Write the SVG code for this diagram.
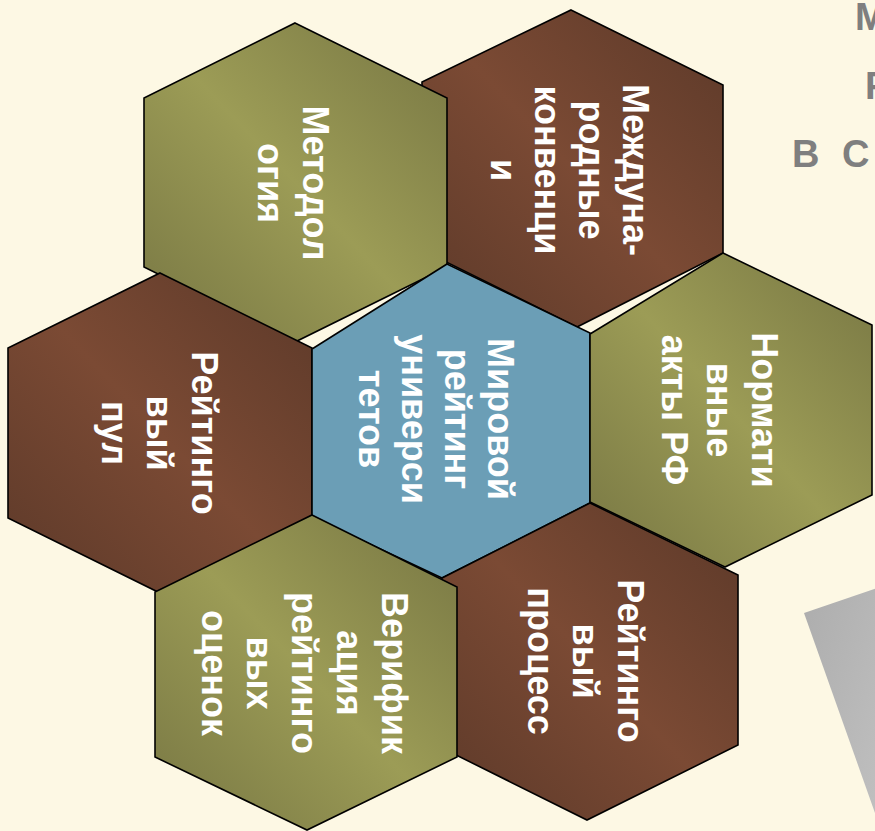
<svg xmlns="http://www.w3.org/2000/svg" width="875" height="831" viewBox="0 0 875 831">
<defs>
<linearGradient id="olive" x1="1" y1="0" x2="0" y2="1">
<stop offset="0" stop-color="#777643"/>
<stop offset="0.5" stop-color="#9c9c56"/>
<stop offset="1" stop-color="#777643"/>
</linearGradient>
<linearGradient id="brown" x1="1" y1="0" x2="0" y2="1">
<stop offset="0" stop-color="#5c3929"/>
<stop offset="0.5" stop-color="#7b4a34"/>
<stop offset="1" stop-color="#5c3929"/>
</linearGradient>
<linearGradient id="gray" x1="0" y1="0" x2="1" y2="1">
<stop offset="0" stop-color="#adadad"/>
<stop offset="1" stop-color="#c0c0c0"/>
</linearGradient>
</defs>
<style>
.hex{stroke:#000;stroke-width:1.6;stroke-linejoin:miter}
.ol{fill:url(#olive)}
.br{fill:url(#brown)}
.bl{fill:#6b9eb6}
.lbl{font-family:"Liberation Sans",Arial,sans-serif;font-weight:bold;font-size:36px;fill:#fff;text-anchor:middle}
.title{font-family:"Liberation Sans",Arial,sans-serif;font-weight:bold;font-size:38px;fill:#7f7f7f}
</style>
<rect width="875" height="831" fill="#fdf8e4"/>
<g id="title">
<text class="title" x="855" y="30">М</text>
<text class="title" x="865" y="99">Р</text>
<text class="title" x="792 820 842" y="167">В С</text>
</g>
<polygon id="gray-shape" points="804,613 880,587 880,827" fill="url(#gray)"/>
<g id="node-mezhdunarodnye">
<polygon class="hex br" points="571,10 723,85 723,253 577,327 422,250 422,82"/>
<text class="lbl" transform="translate(623,170) rotate(90)"><tspan x="0" y="0">Междуна-</tspan><tspan x="0" y="44">родные</tspan><tspan x="0" y="88">конвенци</tspan><tspan x="0" y="132">и</tspan></text>
</g>
<g id="node-metodologia">
<polygon class="hex ol" points="295,23 447,98 447,267 295,342 144,267 144,98"/>
<text class="lbl" transform="translate(303,183) rotate(90)"><tspan x="0" y="0">Методол</tspan><tspan x="0" y="45">огия</tspan></text>
</g>
<g id="node-pul">
<polygon class="hex br" points="160,273 312,348 312,518 160,593 8,518 8,348"/>
<text class="lbl" transform="translate(192,433) rotate(90)"><tspan x="0" y="0">Рейтинго</tspan><tspan x="0" y="45">вый</tspan><tspan x="0" y="90">пул</tspan></text>
</g>
<g id="node-center">
<polygon class="hex bl" points="447,264 590,333 590,503 442,578 312,517 312,349"/>
<text class="lbl" transform="translate(488,419) rotate(90)"><tspan x="0" y="0">Мировой</tspan><tspan x="0" y="43">рейтинг</tspan><tspan x="0" y="86">универси</tspan><tspan x="0" y="129">тетов</tspan></text>
</g>
<g id="node-normativnye">
<polygon class="hex ol" points="723,253 872,325 872,495 725,567 590,502 590,334"/>
<text class="lbl" transform="translate(752,410) rotate(90)"><tspan x="0" y="0">Нормати</tspan><tspan x="0" y="45">вные</tspan><tspan x="0" y="90">акты РФ</tspan></text>
</g>
<g id="node-process">
<polygon class="hex br" points="590,503 738,575 738,745 587,820 442,748 442,578"/>
<text class="lbl" transform="translate(618,661) rotate(90)"><tspan x="0" y="0">Рейтинго</tspan><tspan x="0" y="45">вый</tspan><tspan x="0" y="90">процесс</tspan></text>
</g>
<g id="node-verifikacia">
<polygon class="hex ol" points="312,515 457,587 457,757 307,830 155,757 155,592"/>
<text class="lbl" transform="translate(382,673) rotate(90)"><tspan x="0" y="0">Верифик</tspan><tspan x="0" y="45">ация</tspan><tspan x="0" y="90">рейтинго</tspan><tspan x="0" y="135">вых</tspan><tspan x="0" y="180">оценок</tspan></text>
</g>
</svg>
